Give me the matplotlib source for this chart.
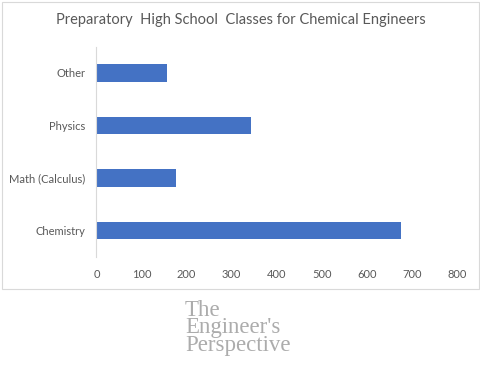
import matplotlib.pyplot as plt
from matplotlib.patches import Rectangle

categories = ['Chemistry', 'Math (Calculus)', 'Physics', 'Other']
counts = [677, 176, 344, 156]
xticks = [0, 100, 200, 300, 400, 500, 600, 700, 800]

plt.rcParams['font.family'] = ['Lato', 'DejaVu Sans']
grey = '#595959'

fig = plt.figure(figsize=(4.81, 3.73), dpi=100)
# chart frame
fig.patches.append(Rectangle((1.5 / 481, 1 - 288.5 / 373), 477.5 / 481, 287 / 373,
                             transform=fig.transFigure, fill=False,
                             edgecolor='#d9d9d9', linewidth=0.8))

ax = fig.add_axes([0.2006, 0.3118, 0.7489, 0.5630])
ax.barh(range(len(categories)), counts, height=0.34, color='#4472C4')
ax.set_yticks(range(len(categories)))
ax.set_yticklabels(categories)
ax.set_xticks(xticks)
ax.set_xlim(0, 800)
ax.set_ylim(-0.5, 3.5)
ax.tick_params(length=0, labelsize=8, colors=grey, pad=8)
ax.tick_params(axis='x', pad=9)
for s in ['top', 'right', 'bottom']:
  ax.spines[s].set_visible(False)
ax.spines['left'].set_color('#d9d9d9')
ax.spines['left'].set_linewidth(0.8)

fig.text(0.5, 1 - 20 / 373, 'Preparatory  High School  Classes for Chemical Engineers',
         ha='center', va='center', fontsize=10.5, color=grey)

# logo
fig.text(185 / 481, 1 - 328 / 373, "The\nEngineer's\nPerspective",
         ha='left', va='center', fontsize=16.5, color='#acacac',
         family='Liberation Serif', linespacing=0.8)

plt.savefig('out.png', dpi=100)
